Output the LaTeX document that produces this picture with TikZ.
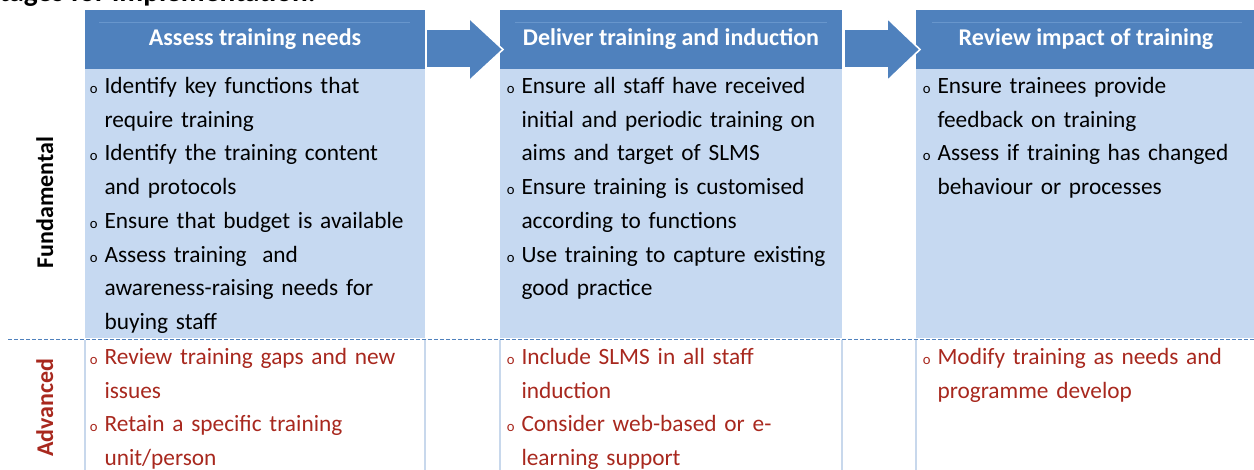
\documentclass[tikz,border=0pt]{standalone}
\usepackage{fontspec}
\setmainfont{Carlito}
\definecolor{hdrblue}{RGB}{79,129,189}
\definecolor{bodyblue}{RGB}{198,217,241}
\definecolor{hdrline}{RGB}{104,150,204}
\definecolor{colrule}{RGB}{200,216,236}
\definecolor{advred}{RGB}{168,40,30}
\newcommand{\bul}{\leavevmode\llap{{\fontsize{11}{11}\selectfont o}\hspace{5.25pt}}}
\tikzset{every picture/.style={line width=0.75pt}}
\tikzset{
  hdrtext/.style={anchor=base,inner sep=0pt,text=white,font=\fontsize{18}{22}\selectfont\bfseries},
  bodytext/.style={anchor=base west,inner sep=0pt,text width=250pt,align=left,font=\fontsize{17.5}{25.3}\selectfont},
  sidelabel/.style={anchor=base,inner sep=0pt,rotate=90,font=\fontsize{18}{22}\selectfont\bfseries},
  stagearrow/.style={draw=white,line width=1.2pt,fill=hdrblue,line join=miter},
}
\begin{document}
\begin{tikzpicture}[x=0.75pt,y=0.75pt,yscale=-1,xscale=1]
\useasboundingbox (0,0) rectangle (1254,470);

%Shape: Rectangle [header 1]
\fill [hdrblue] (85,10) rectangle (425,69) ;
\fill [bodyblue] (85,69) rectangle (425,338) ;
\draw [hdrline] (99,22.5) -- (410,22.5) ;
%Shape: Rectangle [header 2]
\fill [hdrblue] (500,10) rectangle (842,69) ;
\fill [bodyblue] (500,69) rectangle (842,338) ;
\draw [hdrline] (515,22.5) -- (827,22.5) ;
%Shape: Rectangle [header 3]
\fill [hdrblue] (916,10) rectangle (1258,69) ;
\fill [bodyblue] (916,69) rectangle (1258,338) ;
\draw [hdrline] (932,22.5) -- (1242,22.5) ;

%Shape: Right Arrow
\draw [stagearrow] (426,29) -- (469,29) -- (469,18) -- (503,49.5) -- (469,81) -- (469,68) -- (426,68) -- cycle ;
%Shape: Right Arrow
\draw [stagearrow] (844,29) -- (887,29) -- (887,18) -- (920,49.5) -- (887,81) -- (887,68) -- (844,68) -- cycle ;

%Straight Lines [column rules]
\draw [colrule, line width=1.3pt] (85,340) -- (85,470) ;
\draw [colrule, line width=1.3pt] (425,340) -- (425,470) ;
\draw [colrule, line width=1.3pt] (500,340) -- (500,470) ;
\draw [colrule, line width=1.3pt] (842,340) -- (842,470) ;
\draw [colrule, line width=1.3pt] (916,340) -- (916,470) ;
%Straight Lines [level divider]
\draw [hdrblue, line width=1.2pt, dash pattern={on 3pt off 1.5pt}] (8,339.5) -- (1254,339.5) ;

% Text Node
\node (title) [anchor=base west,inner sep=0pt,font=\fontsize{22}{26}\selectfont\bfseries] at (-1,1.5) {tages for implementation.};
% Text Node
\node (assess) [hdrtext] at (255,46) {Assess training needs};
\node (deliver) [hdrtext] at (671,46) {Deliver training and induction};
\node (review) [hdrtext] at (1086,46) {Review impact of training};
% Text Node
\node (fundlbl) [sidelabel] at (53,202.5) {Fundamental};
\node (advlbl) [sidelabel, text=advred] at (53,407.5) {Advanced};

% Text Node
\node (assessfund) [bodytext] at (104,93.5) {\bul Identify key functions that\\
require training\\
\bul Identify the training content\\
and protocols\\
\bul Ensure that budget is available\\
\bul Assess training~ and\\
awareness-raising needs for\\
buying staff};
\node (deliverfund) [bodytext] at (521,93.5) {\bul Ensure all staff have received\\
initial and periodic training on\\
aims and target of SLMS\\
\bul Ensure training is customised\\
according to functions\\
\bul Use training to capture existing\\
good practice};
\node (reviewfund) [bodytext] at (937,93.5) {\bul Ensure trainees provide\\
feedback on training\\
\bul Assess if training has changed\\
behaviour or processes};

% Text Node
\node (assessadv) [bodytext, text=advred] at (104,364.5) {\bul Review training gaps and new\\
issues\\
\bul Retain a specific training\\
unit/person};
\node (deliveradv) [bodytext, text=advred] at (521,364.5) {\bul Include SLMS in all staff\\
induction\\
\bul Consider web-based or e-\\
learning support};
\node (reviewadv) [bodytext, text=advred] at (937,364.5) {\bul Modify training as needs and\\
programme develop};

\end{tikzpicture}
\end{document}
